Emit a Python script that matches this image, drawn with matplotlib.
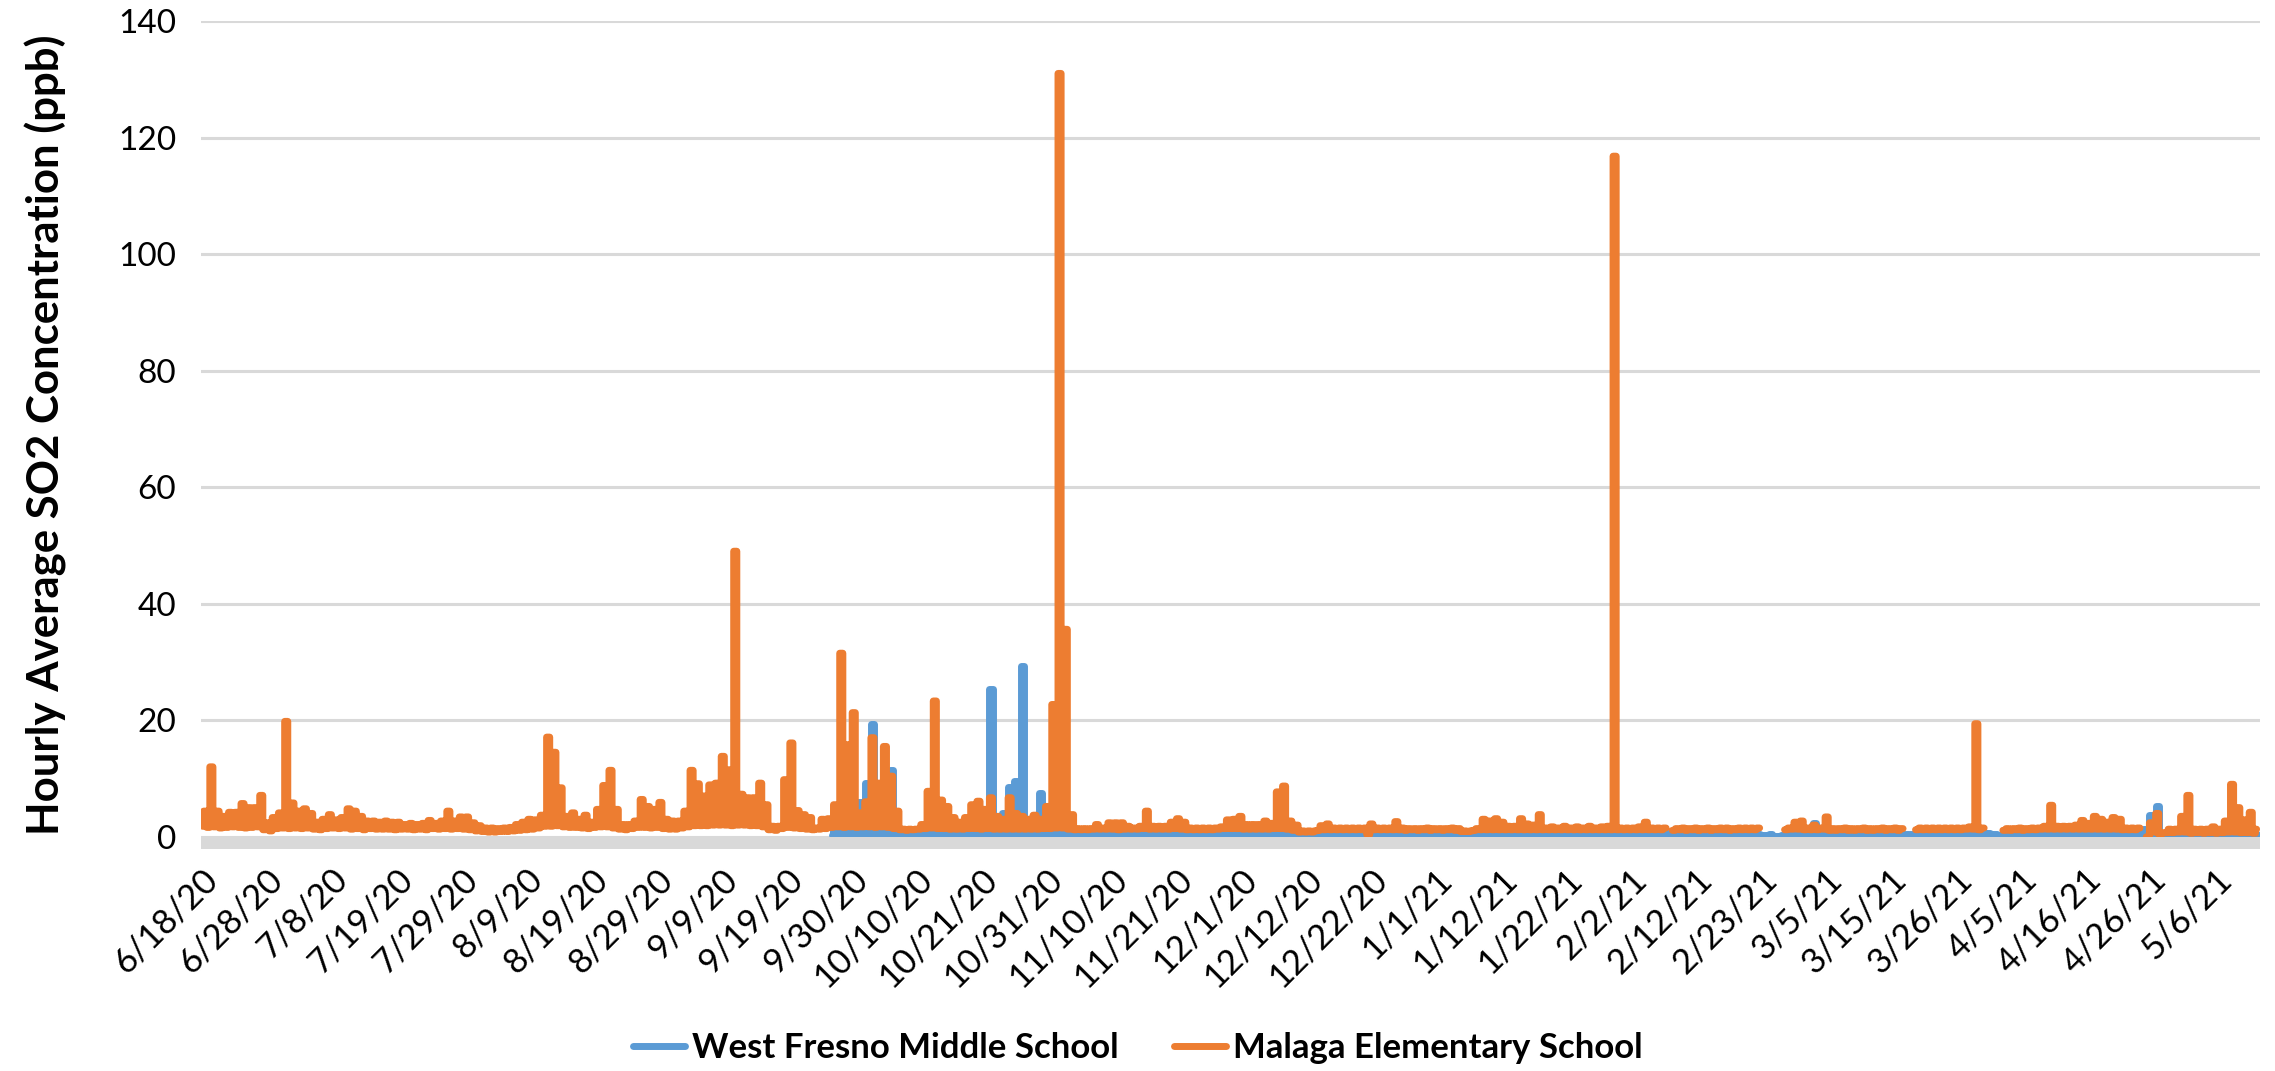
import numpy as np
import pandas as pd
import matplotlib
matplotlib.use("Agg")
import matplotlib.pyplot as plt

plt.rcParams['font.family'] = ['Lato', 'DejaVu Sans']

nan = np.nan

# hourly SO2 (ppb) summarised as one low and one high reading per day
START = pd.Timestamp("2020-06-18")
N_HOURS = 7923                      # length of the record shown on the axis
TICK_EVERY_HOURS = 250              # category axis labels every 250 rows

# Malaga Elementary School, days 0..329 from 6/18/20
malaga_hi = [
    4.4, 12.0, 4.4, 3.5, 4.2, 4.2, 5.7, 5.0, 5.0, 7.1,
    2.4, 3.3, 4.1, 19.8, 5.8, 4.4, 4.8, 4.0, 2.5, 3.0,
    3.8, 2.9, 3.3, 4.8, 4.4, 3.5, 2.7, 2.7, 2.5, 2.7,
    2.5, 2.5, 2.1, 2.3, 2.1, 2.3, 2.8, 2.3, 2.7, 4.4,
    2.7, 3.4, 3.4, 2.4, 1.9, 1.5, 1.5, 1.4, 1.5, 1.6,
    2.1, 2.5, 3.0, 2.9, 3.7, 17.1, 14.5, 8.4, 3.5, 4.1,
    3.0, 3.7, 2.5, 4.7, 8.8, 11.4, 4.7, 2.1, 2.1, 2.7,
    6.4, 5.2, 4.7, 5.9, 3.0, 2.7, 2.7, 4.4, 11.4, 9.1,
    7.0, 8.9, 9.2, 13.8, 11.5, 49.0, 7.3, 6.7, 6.7, 9.2,
    5.5, 1.8, 1.8, 9.8, 16.1, 4.5, 3.8, 3.3, 1.5, 3.0,
    3.1, 5.5, 31.5, 15.8, 21.3, 4.1, 6.0, 17.0, 9.2, 15.5,
    10.4, 4.4, 1.3, 1.3, 1.3, 2.1, 7.8, 23.3, 6.3, 5.2,
    3.3, 2.5, 3.3, 5.5, 6.1, 4.7, 6.7, 3.5, 3.0, 6.7,
    4.0, 3.5, 3.0, 3.7, 3.0, 5.2, 22.7, 131.0, 35.6, 3.8,
    1.4, 1.4, 1.4, 2.1, 1.5, 2.4, 2.4, 2.4, 1.8, 1.5,
    1.8, 4.4, 1.8, 1.8, 1.8, 2.5, 3.1, 2.5, 1.5, 1.5,
    1.5, 1.5, 1.5, 1.7, 2.9, 3.0, 3.5, 2.1, 2.1, 2.1,
    2.7, 2.3, 7.7, 8.7, 2.7, 2.0, 1.0, 1.0, 1.0, 1.9,
    2.2, 1.5, 1.5, 1.5, 1.5, 1.5, 1.5, 2.2, 1.5, 1.5,
    1.5, 2.6, 1.5, 1.4, 1.4, 1.4, 1.5, 1.4, 1.4, 1.4,
    1.5, 1.4, 1.0, 1.0, 1.4, 3.0, 2.7, 3.1, 2.5, 1.8,
    1.8, 3.1, 2.2, 2.0, 3.8, 1.5, 1.7, 1.5, 1.8, 1.5,
    1.7, 1.5, 1.8, 1.5, 1.7, 1.8, 116.8, 1.5, 1.5, 1.5,
    1.7, 2.5, 1.5, 1.5, 1.5, nan, 1.4, 1.5, 1.4, 1.5,
    1.4, 1.5, 1.4, 1.5, 1.5, 1.4, 1.5, 1.5, 1.5, 1.5,
    nan, nan, nan, nan, 1.5, 2.5, 2.7, 1.5, 2.0, 1.5,
    3.4, 1.4, 1.4, 1.5, 1.4, 1.4, 1.5, 1.4, 1.4, 1.5,
    1.4, 1.5, 1.4, nan, nan, 1.5, 1.5, 1.5, 1.5, 1.5,
    1.5, 1.5, 1.5, 1.7, 19.4, 1.5, nan, nan, nan, 1.4,
    1.4, 1.5, 1.4, 1.5, 1.5, 1.8, 5.4, 1.8, 1.8, 1.8,
    2.0, 2.8, 2.3, 3.5, 3.0, 2.5, 3.3, 3.0, 1.5, 1.5,
    1.5, nan, 2.4, 4.0, 0.7, 1.3, 1.3, 3.5, 7.1, 1.3,
    1.3, 1.3, 1.7, 1.3, 2.7, 9.0, 5.0, 2.9, 4.2, 1.3,
]
malaga_lo = [
    1.8, 1.6, 1.7, 1.5, 1.6, 1.7, 1.6, 1.5, 1.6, 1.7,
    1.2, 1.0, 1.4, 1.5, 1.4, 1.5, 1.4, 1.5, 1.3, 1.2,
    1.4, 1.5, 1.4, 1.5, 1.3, 1.4, 1.2, 1.4, 1.3, 1.3,
    1.3, 1.2, 1.3, 1.3, 1.2, 1.3, 1.2, 1.4, 1.3, 1.4,
    1.3, 1.4, 1.3, 1.2, 1.0, 0.9, 0.8, 0.8, 0.9, 0.9,
    1.0, 1.1, 1.2, 1.3, 1.5, 1.8, 1.8, 1.9, 1.7, 1.6,
    1.6, 1.5, 1.4, 1.6, 1.7, 1.7, 1.5, 1.3, 1.2, 1.4,
    1.6, 1.6, 1.5, 1.6, 1.4, 1.3, 1.3, 1.5, 1.7, 1.9,
    1.9, 1.9, 2.0, 2.0, 2.0, 1.9, 2.0, 2.0, 1.9, 1.9,
    1.7, 1.2, 1.1, 1.4, 1.6, 1.5, 1.4, 1.3, 1.2, 1.3,
    1.4, 1.6, 1.7, 1.6, 1.7, 1.6, 1.7, 1.7, 1.6, 1.7,
    1.6, 1.4, 1.2, 1.1, 1.2, 1.3, 1.4, 1.5, 1.4, 1.4,
    1.3, 1.3, 1.3, 1.4, 1.4, 1.3, 1.4, 1.3, 1.3, 1.3,
    1.3, 1.3, 1.3, 1.3, 1.3, 1.4, 1.4, 1.5, 1.5, 1.3,
    1.2, 1.2, 1.2, 1.3, 1.3, 1.3, 1.3, 1.2, 1.3, 1.3,
    1.3, 1.4, 1.3, 1.3, 1.3, 1.3, 1.4, 1.3, 1.2, 1.2,
    1.2, 1.2, 1.2, 1.3, 1.4, 1.4, 1.4, 1.3, 1.3, 1.3,
    1.3, 1.3, 1.4, 1.4, 1.3, 1.1, 0.8, 0.8, 0.8, 1.1,
    1.2, 1.2, 1.2, 1.2, 1.2, 1.2, 1.2, 0.4, 1.2, 1.2,
    1.2, 1.2, 1.2, 1.1, 1.2, 1.1, 1.2, 1.1, 1.2, 1.1,
    1.2, 1.1, 0.9, 0.9, 1.1, 1.2, 1.2, 1.2, 1.2, 1.2,
    1.2, 1.2, 1.2, 1.2, 1.2, 1.2, 1.2, 1.2, 1.2, 1.2,
    1.2, 1.2, 1.2, 1.2, 1.2, 1.2, 1.2, 1.2, 1.2, 1.2,
    1.2, 1.2, 1.2, 1.2, 1.2, nan, 1.1, 1.2, 1.1, 1.2,
    1.1, 1.2, 1.1, 1.2, 1.2, 1.1, 1.2, 1.2, 1.2, 1.2,
    nan, nan, nan, nan, 1.2, 1.3, 1.3, 1.2, 1.2, 1.2,
    1.3, 1.1, 1.1, 1.2, 1.1, 1.1, 1.2, 1.1, 1.1, 1.2,
    1.1, 1.2, 1.1, nan, nan, 1.2, 1.2, 1.2, 1.2, 1.2,
    1.2, 1.2, 1.2, 1.3, 1.3, 1.2, nan, nan, nan, 1.1,
    1.1, 1.2, 1.1, 1.2, 1.2, 1.3, 1.3, 1.3, 1.3, 1.3,
    1.3, 1.3, 1.3, 1.3, 1.3, 1.3, 1.3, 1.3, 1.2, 1.2,
    1.2, nan, 0.0, 0.8, 0.4, 0.7, 0.7, 0.8, 0.8, 0.6,
    0.7, 0.6, 0.7, 0.6, 0.7, 0.8, 0.8, 0.7, 0.7, 0.6,
]

# West Fresno Middle School starts reporting on day 101 (9/27/20)
fresno_first_day = 101
fresno_hi = [
    1.2, 1.3, 1.2, 1.6, 5.9, 9.2, 19.3, 2.5, 3.5, 11.5,
    1.6, 0.8, 0.7, 0.8, 0.9, 0.8, 0.9, 0.8, 0.7, 0.8,
    0.7, 0.8, 0.9, 0.8, 0.9, 25.3, 1.2, 4.0, 8.6, 9.5,
    29.3, 1.0, 0.9, 7.5, 0.9, 0.8, 0.9, 0.8, 0.7, 0.6,
    0.5, 0.6, 0.5, 0.6, 0.5, 0.5, 0.6, 0.5, 0.4, 0.5,
    0.5, 0.6, 0.5, 0.4, 0.5, 0.6, 0.5, 0.5, 0.4, 0.5,
    0.5, 0.4, 0.5, 0.6, 0.5, 0.6, 0.5, 0.5, 0.6, 0.5,
    0.6, 0.5, 0.6, 0.6, 0.4, 0.3, 0.3, 0.4, 0.5, 0.4,
    0.5, 0.4, 0.5, 0.4, 0.5, 0.4, 0.5, 0.5, 0.4, 0.5,
    0.5, 0.6, 0.5, 0.5, 0.6, 0.5, 0.6, 0.5, 0.6, 0.6,
    0.5, 0.6, 0.4, 0.5, 0.6, 0.7, 0.6, 0.7, 0.6, 0.6,
    0.7, 0.6, 0.6, 0.7, 0.6, 0.5, 0.6, 0.5, 0.6, 0.5,
    0.6, 0.5, 0.6, 0.5, 0.6, 0.6, 0.5, 0.6, 0.5, 0.6,
    0.6, 0.5, 0.7, 0.6, 0.7, 0.9, 0.6, 0.5, 0.4, 0.5,
    0.5, 0.4, 0.5, 0.4, 0.5, 0.4, 0.5, 0.4, 0.4, 0.3,
    0.5, 0.1, 0.3, 0.4, 0.4, 0.5, 0.6, 2.4, 0.5, 0.4,
    0.4, 0.3, 0.4, 0.4, 0.3, 0.4, 0.5, 0.4, 0.5, 0.4,
    0.3, 0.4, 0.4, 0.5, 0.5, 0.6, 0.6, 0.7, 0.7, 0.7,
    0.8, 0.8, 0.8, 0.9, 0.9, 0.6, 0.4, 0.3, 0.4, 0.4,
    0.4, 0.4, 0.5, 0.5, 0.6, 0.6, 0.7, 0.7, 0.7, 0.8,
    0.7, 0.8, 0.7, 0.8, 0.8, 0.7, 0.8, 0.7, 0.7, 0.8,
    1.3, 3.8, 5.2, 0.5, 0.3, 0.3, 0.4, 0.3, 0.3, 0.4,
    0.3, 0.4, 0.3, 0.3, 0.4, 0.3, 0.4, 0.3, 0.4,
]
fresno_lo = [
    0.3, 0.4, 0.3, 0.4, 0.5, 0.4, 0.5, 0.4, 0.3, 0.4,
    0.3, 0.2, 0.1, 0.1, 0.2, 0.1, 0.1, 0.1, 0.1, 0.1,
    0.1, 0.1, 0.2, 0.1, 0.1, 0.2, 0.2, 0.1, 0.2, 0.2,
    0.2, 0.1, 0.1, 0.2, 0.1, 0.1, 0.1, 0.1, 0.1, 0.0,
    0.0, 0.1, 0.0, 0.1, 0.0, 0.0, 0.1, 0.0, 0.0, 0.0,
    0.0, 0.1, 0.0, 0.0, 0.0, 0.1, 0.0, 0.0, 0.0, 0.0,
    0.0, 0.0, 0.0, 0.1, 0.0, 0.1, 0.0, 0.0, 0.1, 0.0,
    0.1, 0.0, 0.1, 0.1, 0.0, 0.0, 0.0, 0.0, 0.0, 0.0,
    0.0, 0.0, 0.0, 0.0, 0.0, 0.0, 0.0, 0.0, 0.0, 0.0,
    0.0, 0.1, 0.0, 0.0, 0.1, 0.0, 0.1, 0.0, 0.1, 0.1,
    0.0, 0.1, 0.0, 0.0, 0.1, 0.1, 0.1, 0.1, 0.1, 0.1,
    0.1, 0.1, 0.1, 0.1, 0.1, 0.0, 0.1, 0.0, 0.1, 0.0,
    0.1, 0.0, 0.1, 0.0, 0.1, 0.1, 0.0, 0.1, 0.0, 0.1,
    0.1, 0.0, 0.1, 0.1, 0.1, 0.2, 0.1, 0.0, 0.0, 0.0,
    0.0, 0.0, 0.0, 0.0, 0.0, 0.0, 0.0, 0.0, 0.0, 0.0,
    0.0, 0.0, 0.0, 0.0, 0.0, 0.0, 0.0, 0.1, 0.0, 0.0,
    0.0, 0.0, 0.0, 0.0, 0.0, 0.0, 0.0, 0.0, 0.0, 0.0,
    0.0, 0.0, 0.0, 0.0, 0.0, 0.1, 0.1, 0.1, 0.1, 0.1,
    0.2, 0.2, 0.2, 0.2, 0.2, 0.1, 0.0, 0.0, 0.0, 0.0,
    0.0, 0.0, 0.0, 0.0, 0.1, 0.1, 0.1, 0.1, 0.1, 0.2,
    0.1, 0.2, 0.1, 0.2, 0.2, 0.1, 0.2, 0.1, 0.1, 0.2,
    0.3, 0.5, 0.4, 0.0, 0.0, 0.0, 0.0, 0.0, 0.0, 0.0,
    0.0, 0.0, 0.0, 0.0, 0.0, 0.0, 0.0, 0.0, 0.0,
]

series_names = ["West Fresno Middle School", "Malaga Elementary School"]
series_colors = ["#5B9BD5", "#ED7D31"]


def daily_readings(first_day, hi, lo):
    # one low reading early in the day, one high reading in the afternoon
    times, vals = [], []
    for i, (h, l) in enumerate(zip(hi, lo)):
        day = START + pd.Timedelta(days=first_day + i)
        times += [day + pd.Timedelta(hours=5), day + pd.Timedelta(hours=14)]
        vals += [l, h]
    return times, vals


fig = plt.figure(figsize=(22.75, 10.71), dpi=100)
ax = fig.add_axes([0.0884, 0.2073, 0.905, 0.7731])

t_f, v_f = daily_readings(fresno_first_day, fresno_hi, fresno_lo)
t_m, v_m = daily_readings(0, malaga_hi, malaga_lo)

line_kw = dict(linewidth=5.0, drawstyle='steps-mid',
               solid_joinstyle='round', solid_capstyle='round')
ax.plot(t_f, v_f, color=series_colors[0], label=series_names[0], zorder=2, **line_kw)
ax.plot(t_m, v_m, color=series_colors[1], label=series_names[1], zorder=2.1, **line_kw)

# axis line (thick grey band) sits over the series like in Excel
ax.axhspan(-2.1, 0, color='#d9d9d9', zorder=3, linewidth=0)

ax.set_ylim(-2.1, 140)
ax.set_xlim(START, START + pd.Timedelta(hours=N_HOURS))
ax.set_yticks(range(0, 141, 20))
ax.yaxis.grid(True, color='#d9d9d9', linewidth=2.2, zorder=0)
ax.set_axisbelow(True)
for s in ax.spines.values():
    s.set_visible(False)

tick_times = [START + pd.Timedelta(hours=TICK_EVERY_HOURS * k) for k in range(32)]
tick_labels = [f"{t.month}/{t.day}/{t.year % 100}" for t in tick_times]
ax.set_xticks(tick_times)
ax.set_xticklabels(tick_labels, rotation=45, ha='right', rotation_mode='anchor')
ax.tick_params(axis='x', length=0, pad=10, labelsize=25)
ax.tick_params(axis='y', length=0, pad=18, labelsize=24)

ax.set_ylabel("Hourly Average SO2 Concentration (ppb)", fontsize=31.5, fontweight='bold')
ax.yaxis.set_label_coords(-0.065, 0.5)

fig.legend(loc='center', bbox_to_anchor=(0.5, 0.0215), ncol=2, frameon=False,
           prop={'weight': 'bold', 'size': 25}, handlelength=1.5, handletextpad=0.2,
           columnspacing=1.6)

fig.savefig("out.png", dpi=100)
